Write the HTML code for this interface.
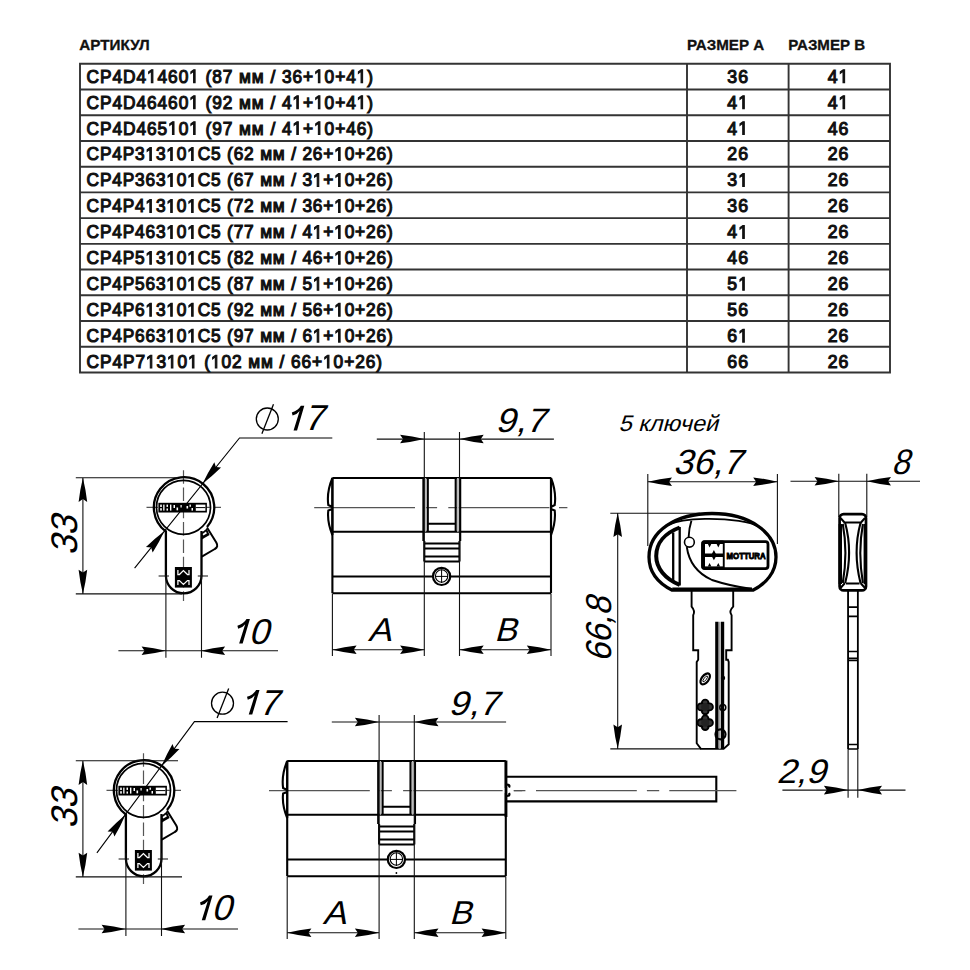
<!DOCTYPE html><html><head><meta charset="utf-8"><style>html,body{margin:0;padding:0;background:#fff;width:970px;height:970px;overflow:hidden}svg{display:block}</style></head><body>
<svg width="970" height="970" viewBox="0 0 970 970">
<rect width="970" height="970" fill="#fff"/>
<path d="M80.0,63.80H890.0M80.0,89.52H890.0M80.0,115.24H890.0M80.0,140.96H890.0M80.0,166.68H890.0M80.0,192.40H890.0M80.0,218.12H890.0M80.0,243.84H890.0M80.0,269.56H890.0M80.0,295.28H890.0M80.0,321.00H890.0M80.0,346.72H890.0M80.0,372.44H890.0M80.0,63.8V372.44M687.0,63.8V372.44M788.6,63.8V372.44M890.0,63.8V372.44" stroke="#333" stroke-width="1.9" fill="none" stroke-linecap="square"/>
<g font-family="Liberation Sans" font-weight="bold" fill="#111">
<text x="79.3" y="50.4" font-size="14.5" stroke="#111" stroke-width="0.3" textLength="70.5" lengthAdjust="spacingAndGlyphs">АРТИКУЛ</text>
<text x="687" y="50.4" font-size="14.5" stroke="#111" stroke-width="0.3" textLength="77.2" lengthAdjust="spacingAndGlyphs">РАЗМЕР А</text>
<text x="788.3" y="50.4" font-size="14.5" stroke="#111" stroke-width="0.3" textLength="76.8" lengthAdjust="spacingAndGlyphs">РАЗМЕР В</text>
<g transform="translate(86.6,82.60) scale(0.93,1)" stroke="#111" stroke-width="1.15"><text id="r0" x="0" y="0" font-size="18.6" font-weight="normal" textLength="308.0" lengthAdjust="spacing">CP4D4 460  (87 мм / 36+ 0+4 )</text><path d="M69.63,0.00 L69.63,-11.23 L66.74,-9.17 L66.74,-10.72 L69.77,-12.80 L71.27,-12.80 L71.27,0.00ZM115.03,0.00 L115.03,-11.23 L112.14,-9.17 L112.14,-10.72 L115.16,-12.80 L116.67,-12.80 L116.67,0.00ZM249.23,0.00 L249.23,-11.23 L246.34,-9.17 L246.34,-10.72 L249.37,-12.80 L250.87,-12.80 L250.87,0.00ZM295.13,0.00 L295.13,-11.23 L292.24,-9.17 L292.24,-10.72 L295.27,-12.80 L296.77,-12.80 L296.77,0.00Z"/></g>
<g transform="translate(738.3,82.60) scale(0.95,1)" stroke="#111" stroke-width="1.15"><text id="a0" x="0" y="0" font-size="18.6" font-weight="normal" text-anchor="middle" letter-spacing="1.2">36</text><path d=""/></g>
<g transform="translate(838.6,82.60) scale(0.95,1)" stroke="#111" stroke-width="1.15"><text id="b0" x="0" y="0" font-size="18.6" font-weight="normal" text-anchor="middle" letter-spacing="1.2">4 </text><path d="M4.67,0.00 L4.67,-11.23 L1.78,-9.17 L1.78,-10.72 L4.81,-12.80 L6.31,-12.80 L6.31,0.00Z"/></g>
<g transform="translate(86.6,108.55) scale(0.93,1)" stroke="#111" stroke-width="1.15"><text id="r1" x="0" y="0" font-size="18.6" font-weight="normal" textLength="308.0" lengthAdjust="spacing">CP4D46460  (92 мм / 4 + 0+4 )</text><path d="M115.03,0.00 L115.03,-11.23 L112.14,-9.17 L112.14,-10.72 L115.16,-12.80 L116.67,-12.80 L116.67,0.00ZM226.03,0.00 L226.03,-11.23 L223.14,-9.17 L223.14,-10.72 L226.17,-12.80 L227.67,-12.80 L227.67,0.00ZM249.23,0.00 L249.23,-11.23 L246.34,-9.17 L246.34,-10.72 L249.37,-12.80 L250.87,-12.80 L250.87,0.00ZM295.13,0.00 L295.13,-11.23 L292.24,-9.17 L292.24,-10.72 L295.27,-12.80 L296.77,-12.80 L296.77,0.00Z"/></g>
<g transform="translate(738.3,108.55) scale(0.95,1)" stroke="#111" stroke-width="1.15"><text id="a1" x="0" y="0" font-size="18.6" font-weight="normal" text-anchor="middle" letter-spacing="1.2">4 </text><path d="M4.67,0.00 L4.67,-11.23 L1.78,-9.17 L1.78,-10.72 L4.81,-12.80 L6.31,-12.80 L6.31,0.00Z"/></g>
<g transform="translate(838.6,108.55) scale(0.95,1)" stroke="#111" stroke-width="1.15"><text id="b1" x="0" y="0" font-size="18.6" font-weight="normal" text-anchor="middle" letter-spacing="1.2">4 </text><path d="M4.67,0.00 L4.67,-11.23 L1.78,-9.17 L1.78,-10.72 L4.81,-12.80 L6.31,-12.80 L6.31,0.00Z"/></g>
<g transform="translate(86.6,134.50) scale(0.93,1)" stroke="#111" stroke-width="1.15"><text id="r2" x="0" y="0" font-size="18.6" font-weight="normal" textLength="308.0" lengthAdjust="spacing">CP4D465 0  (97 мм / 4 + 0+46)</text><path d="M92.33,0.00 L92.33,-11.23 L89.44,-9.17 L89.44,-10.72 L92.46,-12.80 L93.97,-12.80 L93.97,0.00ZM115.03,0.00 L115.03,-11.23 L112.14,-9.17 L112.14,-10.72 L115.16,-12.80 L116.67,-12.80 L116.67,0.00ZM226.03,0.00 L226.03,-11.23 L223.14,-9.17 L223.14,-10.72 L226.17,-12.80 L227.67,-12.80 L227.67,0.00ZM249.23,0.00 L249.23,-11.23 L246.34,-9.17 L246.34,-10.72 L249.37,-12.80 L250.87,-12.80 L250.87,0.00Z"/></g>
<g transform="translate(738.3,134.50) scale(0.95,1)" stroke="#111" stroke-width="1.15"><text id="a2" x="0" y="0" font-size="18.6" font-weight="normal" text-anchor="middle" letter-spacing="1.2">4 </text><path d="M4.67,0.00 L4.67,-11.23 L1.78,-9.17 L1.78,-10.72 L4.81,-12.80 L6.31,-12.80 L6.31,0.00Z"/></g>
<g transform="translate(838.6,134.50) scale(0.95,1)" stroke="#111" stroke-width="1.15"><text id="b2" x="0" y="0" font-size="18.6" font-weight="normal" text-anchor="middle" letter-spacing="1.2">46</text><path d=""/></g>
<g transform="translate(86.6,160.45) scale(0.93,1)" stroke="#111" stroke-width="1.15"><text id="r3" x="0" y="0" font-size="18.6" font-weight="normal" textLength="329.1" lengthAdjust="spacing">CP4P3 3 0 C5 (62 мм / 26+ 0+26)</text><path d="M68.00,0.00 L68.00,-11.23 L65.11,-9.17 L65.11,-10.72 L68.14,-12.80 L69.64,-12.80 L69.64,0.00ZM90.46,0.00 L90.46,-11.23 L87.57,-9.17 L87.57,-10.72 L90.59,-12.80 L92.10,-12.80 L92.10,0.00ZM112.91,0.00 L112.91,-11.23 L110.02,-9.17 L110.02,-10.72 L113.05,-12.80 L114.56,-12.80 L114.56,0.00ZM270.94,0.00 L270.94,-11.23 L268.05,-9.17 L268.05,-10.72 L271.08,-12.80 L272.58,-12.80 L272.58,0.00Z"/></g>
<g transform="translate(738.3,160.45) scale(0.95,1)" stroke="#111" stroke-width="1.15"><text id="a3" x="0" y="0" font-size="18.6" font-weight="normal" text-anchor="middle" letter-spacing="1.2">26</text><path d=""/></g>
<g transform="translate(838.6,160.45) scale(0.95,1)" stroke="#111" stroke-width="1.15"><text id="b3" x="0" y="0" font-size="18.6" font-weight="normal" text-anchor="middle" letter-spacing="1.2">26</text><path d=""/></g>
<g transform="translate(86.6,186.40) scale(0.93,1)" stroke="#111" stroke-width="1.15"><text id="r4" x="0" y="0" font-size="18.6" font-weight="normal" textLength="329.1" lengthAdjust="spacing">CP4P363 0 C5 (67 мм / 3 + 0+26)</text><path d="M90.46,0.00 L90.46,-11.23 L87.57,-9.17 L87.57,-10.72 L90.59,-12.80 L92.10,-12.80 L92.10,0.00ZM112.91,0.00 L112.91,-11.23 L110.02,-9.17 L110.02,-10.72 L113.05,-12.80 L114.56,-12.80 L114.56,0.00ZM247.98,0.00 L247.98,-11.23 L245.09,-9.17 L245.09,-10.72 L248.12,-12.80 L249.63,-12.80 L249.63,0.00ZM270.94,0.00 L270.94,-11.23 L268.05,-9.17 L268.05,-10.72 L271.08,-12.80 L272.58,-12.80 L272.58,0.00Z"/></g>
<g transform="translate(738.3,186.40) scale(0.95,1)" stroke="#111" stroke-width="1.15"><text id="a4" x="0" y="0" font-size="18.6" font-weight="normal" text-anchor="middle" letter-spacing="1.2">3 </text><path d="M4.67,0.00 L4.67,-11.23 L1.78,-9.17 L1.78,-10.72 L4.81,-12.80 L6.31,-12.80 L6.31,0.00Z"/></g>
<g transform="translate(838.6,186.40) scale(0.95,1)" stroke="#111" stroke-width="1.15"><text id="b4" x="0" y="0" font-size="18.6" font-weight="normal" text-anchor="middle" letter-spacing="1.2">26</text><path d=""/></g>
<g transform="translate(86.6,212.35) scale(0.93,1)" stroke="#111" stroke-width="1.15"><text id="r5" x="0" y="0" font-size="18.6" font-weight="normal" textLength="329.1" lengthAdjust="spacing">CP4P4 3 0 C5 (72 мм / 36+ 0+26)</text><path d="M68.00,0.00 L68.00,-11.23 L65.11,-9.17 L65.11,-10.72 L68.14,-12.80 L69.64,-12.80 L69.64,0.00ZM90.46,0.00 L90.46,-11.23 L87.57,-9.17 L87.57,-10.72 L90.59,-12.80 L92.10,-12.80 L92.10,0.00ZM112.91,0.00 L112.91,-11.23 L110.02,-9.17 L110.02,-10.72 L113.05,-12.80 L114.56,-12.80 L114.56,0.00ZM270.94,0.00 L270.94,-11.23 L268.05,-9.17 L268.05,-10.72 L271.08,-12.80 L272.58,-12.80 L272.58,0.00Z"/></g>
<g transform="translate(738.3,212.35) scale(0.95,1)" stroke="#111" stroke-width="1.15"><text id="a5" x="0" y="0" font-size="18.6" font-weight="normal" text-anchor="middle" letter-spacing="1.2">36</text><path d=""/></g>
<g transform="translate(838.6,212.35) scale(0.95,1)" stroke="#111" stroke-width="1.15"><text id="b5" x="0" y="0" font-size="18.6" font-weight="normal" text-anchor="middle" letter-spacing="1.2">26</text><path d=""/></g>
<g transform="translate(86.6,238.30) scale(0.93,1)" stroke="#111" stroke-width="1.15"><text id="r6" x="0" y="0" font-size="18.6" font-weight="normal" textLength="329.1" lengthAdjust="spacing">CP4P463 0 C5 (77 мм / 4 + 0+26)</text><path d="M90.46,0.00 L90.46,-11.23 L87.57,-9.17 L87.57,-10.72 L90.59,-12.80 L92.10,-12.80 L92.10,0.00ZM112.91,0.00 L112.91,-11.23 L110.02,-9.17 L110.02,-10.72 L113.05,-12.80 L114.56,-12.80 L114.56,0.00ZM247.98,0.00 L247.98,-11.23 L245.09,-9.17 L245.09,-10.72 L248.12,-12.80 L249.63,-12.80 L249.63,0.00ZM270.94,0.00 L270.94,-11.23 L268.05,-9.17 L268.05,-10.72 L271.08,-12.80 L272.58,-12.80 L272.58,0.00Z"/></g>
<g transform="translate(738.3,238.30) scale(0.95,1)" stroke="#111" stroke-width="1.15"><text id="a6" x="0" y="0" font-size="18.6" font-weight="normal" text-anchor="middle" letter-spacing="1.2">4 </text><path d="M4.67,0.00 L4.67,-11.23 L1.78,-9.17 L1.78,-10.72 L4.81,-12.80 L6.31,-12.80 L6.31,0.00Z"/></g>
<g transform="translate(838.6,238.30) scale(0.95,1)" stroke="#111" stroke-width="1.15"><text id="b6" x="0" y="0" font-size="18.6" font-weight="normal" text-anchor="middle" letter-spacing="1.2">26</text><path d=""/></g>
<g transform="translate(86.6,264.25) scale(0.93,1)" stroke="#111" stroke-width="1.15"><text id="r7" x="0" y="0" font-size="18.6" font-weight="normal" textLength="329.1" lengthAdjust="spacing">CP4P5 3 0 C5 (82 мм / 46+ 0+26)</text><path d="M68.00,0.00 L68.00,-11.23 L65.11,-9.17 L65.11,-10.72 L68.14,-12.80 L69.64,-12.80 L69.64,0.00ZM90.46,0.00 L90.46,-11.23 L87.57,-9.17 L87.57,-10.72 L90.59,-12.80 L92.10,-12.80 L92.10,0.00ZM112.91,0.00 L112.91,-11.23 L110.02,-9.17 L110.02,-10.72 L113.05,-12.80 L114.56,-12.80 L114.56,0.00ZM270.94,0.00 L270.94,-11.23 L268.05,-9.17 L268.05,-10.72 L271.08,-12.80 L272.58,-12.80 L272.58,0.00Z"/></g>
<g transform="translate(738.3,264.25) scale(0.95,1)" stroke="#111" stroke-width="1.15"><text id="a7" x="0" y="0" font-size="18.6" font-weight="normal" text-anchor="middle" letter-spacing="1.2">46</text><path d=""/></g>
<g transform="translate(838.6,264.25) scale(0.95,1)" stroke="#111" stroke-width="1.15"><text id="b7" x="0" y="0" font-size="18.6" font-weight="normal" text-anchor="middle" letter-spacing="1.2">26</text><path d=""/></g>
<g transform="translate(86.6,290.20) scale(0.93,1)" stroke="#111" stroke-width="1.15"><text id="r8" x="0" y="0" font-size="18.6" font-weight="normal" textLength="329.1" lengthAdjust="spacing">CP4P563 0 C5 (87 мм / 5 + 0+26)</text><path d="M90.46,0.00 L90.46,-11.23 L87.57,-9.17 L87.57,-10.72 L90.59,-12.80 L92.10,-12.80 L92.10,0.00ZM112.91,0.00 L112.91,-11.23 L110.02,-9.17 L110.02,-10.72 L113.05,-12.80 L114.56,-12.80 L114.56,0.00ZM247.98,0.00 L247.98,-11.23 L245.09,-9.17 L245.09,-10.72 L248.12,-12.80 L249.63,-12.80 L249.63,0.00ZM270.94,0.00 L270.94,-11.23 L268.05,-9.17 L268.05,-10.72 L271.08,-12.80 L272.58,-12.80 L272.58,0.00Z"/></g>
<g transform="translate(738.3,290.20) scale(0.95,1)" stroke="#111" stroke-width="1.15"><text id="a8" x="0" y="0" font-size="18.6" font-weight="normal" text-anchor="middle" letter-spacing="1.2">5 </text><path d="M4.67,0.00 L4.67,-11.23 L1.78,-9.17 L1.78,-10.72 L4.81,-12.80 L6.31,-12.80 L6.31,0.00Z"/></g>
<g transform="translate(838.6,290.20) scale(0.95,1)" stroke="#111" stroke-width="1.15"><text id="b8" x="0" y="0" font-size="18.6" font-weight="normal" text-anchor="middle" letter-spacing="1.2">26</text><path d=""/></g>
<g transform="translate(86.6,316.15) scale(0.93,1)" stroke="#111" stroke-width="1.15"><text id="r9" x="0" y="0" font-size="18.6" font-weight="normal" textLength="329.1" lengthAdjust="spacing">CP4P6 3 0 C5 (92 мм / 56+ 0+26)</text><path d="M68.00,0.00 L68.00,-11.23 L65.11,-9.17 L65.11,-10.72 L68.14,-12.80 L69.64,-12.80 L69.64,0.00ZM90.46,0.00 L90.46,-11.23 L87.57,-9.17 L87.57,-10.72 L90.59,-12.80 L92.10,-12.80 L92.10,0.00ZM112.91,0.00 L112.91,-11.23 L110.02,-9.17 L110.02,-10.72 L113.05,-12.80 L114.56,-12.80 L114.56,0.00ZM270.94,0.00 L270.94,-11.23 L268.05,-9.17 L268.05,-10.72 L271.08,-12.80 L272.58,-12.80 L272.58,0.00Z"/></g>
<g transform="translate(738.3,316.15) scale(0.95,1)" stroke="#111" stroke-width="1.15"><text id="a9" x="0" y="0" font-size="18.6" font-weight="normal" text-anchor="middle" letter-spacing="1.2">56</text><path d=""/></g>
<g transform="translate(838.6,316.15) scale(0.95,1)" stroke="#111" stroke-width="1.15"><text id="b9" x="0" y="0" font-size="18.6" font-weight="normal" text-anchor="middle" letter-spacing="1.2">26</text><path d=""/></g>
<g transform="translate(86.6,342.10) scale(0.93,1)" stroke="#111" stroke-width="1.15"><text id="r10" x="0" y="0" font-size="18.6" font-weight="normal" textLength="329.1" lengthAdjust="spacing">CP4P663 0 C5 (97 мм / 6 + 0+26)</text><path d="M90.46,0.00 L90.46,-11.23 L87.57,-9.17 L87.57,-10.72 L90.59,-12.80 L92.10,-12.80 L92.10,0.00ZM112.91,0.00 L112.91,-11.23 L110.02,-9.17 L110.02,-10.72 L113.05,-12.80 L114.56,-12.80 L114.56,0.00ZM247.98,0.00 L247.98,-11.23 L245.09,-9.17 L245.09,-10.72 L248.12,-12.80 L249.63,-12.80 L249.63,0.00ZM270.94,0.00 L270.94,-11.23 L268.05,-9.17 L268.05,-10.72 L271.08,-12.80 L272.58,-12.80 L272.58,0.00Z"/></g>
<g transform="translate(738.3,342.10) scale(0.95,1)" stroke="#111" stroke-width="1.15"><text id="a10" x="0" y="0" font-size="18.6" font-weight="normal" text-anchor="middle" letter-spacing="1.2">6 </text><path d="M4.67,0.00 L4.67,-11.23 L1.78,-9.17 L1.78,-10.72 L4.81,-12.80 L6.31,-12.80 L6.31,0.00Z"/></g>
<g transform="translate(838.6,342.10) scale(0.95,1)" stroke="#111" stroke-width="1.15"><text id="b10" x="0" y="0" font-size="18.6" font-weight="normal" text-anchor="middle" letter-spacing="1.2">26</text><path d=""/></g>
<g transform="translate(86.6,368.05) scale(0.93,1)" stroke="#111" stroke-width="1.15"><text id="r11" x="0" y="0" font-size="18.6" font-weight="normal" textLength="317.6" lengthAdjust="spacing">CP4P7 3 0  ( 02 мм / 66+ 0+26)</text><path d="M68.48,0.00 L68.48,-11.23 L65.60,-9.17 L65.60,-10.72 L68.62,-12.80 L70.13,-12.80 L70.13,0.00ZM91.13,0.00 L91.13,-11.23 L88.24,-9.17 L88.24,-10.72 L91.27,-12.80 L92.78,-12.80 L92.78,0.00ZM113.78,0.00 L113.78,-11.23 L110.89,-9.17 L110.89,-10.72 L113.92,-12.80 L115.43,-12.80 L115.43,0.00ZM138.42,0.00 L138.42,-11.23 L135.53,-9.17 L135.53,-10.72 L138.55,-12.80 L140.06,-12.80 L140.06,0.00ZM258.96,0.00 L258.96,-11.23 L256.07,-9.17 L256.07,-10.72 L259.09,-12.80 L260.60,-12.80 L260.60,0.00Z"/></g>
<g transform="translate(738.3,368.05) scale(0.95,1)" stroke="#111" stroke-width="1.15"><text id="a11" x="0" y="0" font-size="18.6" font-weight="normal" text-anchor="middle" letter-spacing="1.2">66</text><path d=""/></g>
<g transform="translate(838.6,368.05) scale(0.95,1)" stroke="#111" stroke-width="1.15"><text id="b11" x="0" y="0" font-size="18.6" font-weight="normal" text-anchor="middle" letter-spacing="1.2">26</text><path d=""/></g>
</g>
<defs>
<path id="ar" d="M0,0 Q-12,-2.9 -24.2,-4.3 L-21.3,0 L-24.2,4.3 Q-12,2.9 0,0Z" fill="#000"/>
</defs>
<g id="endview"><path d="M183.5,470.2 V601" stroke="#555" stroke-width="1.2" stroke-dasharray="13.5,3.8" fill="none"/><path d="M146.5,507.3 H221" stroke="#555" stroke-width="1.2" stroke-dasharray="13.5,3.8" stroke-dashoffset="2" fill="none"/><path d="M158.6,576 H169 M197.8,576 H208" stroke="#111" stroke-width="1.1" fill="none"/><path d="M165.9,531.5 A30.2,30.2 0 1 1 207,527" stroke="#000" stroke-width="2.3" fill="none"/><circle cx="183.5" cy="507.3" r="27" stroke="#000" stroke-width="1.7" fill="none"/><path d="M165.9,530.5 V575.6 A17.8,17.8 0 0 0 201.5,575.6 V531" stroke="#000" stroke-width="2.3" fill="none"/><path d="M207,527.4 L216.3,542.5 Q218.8,546.8 214.8,549 Q208,553 201.8,556.6" stroke="#000" stroke-width="2" fill="none"/><path d="M201.3,533 L206.8,528.6 L209.6,535 Q205,537.5 201.3,540 Z" fill="#000"/><path d="M202.6,533.9 L206,531.6 L206.8,533.4 L203.3,535.6Z" fill="#fff"/><rect x="158.4" y="502.8" width="48.5" height="9.7" fill="#000"/><rect x="195.8" y="504.6" width="9.6" height="6.2" fill="#fff"/><path d="M195.8,507.6 H205.4" stroke="#000" stroke-width="1"/><rect x="160.2" y="504.6" width="1.6" height="2.4" fill="#fff"/><rect x="160.2" y="508.2" width="1.6" height="2.4" fill="#fff"/><rect x="163.2" y="504.6" width="1.3" height="6" fill="#fff"/><rect x="166.5" y="504.6" width="1.5" height="2.3" fill="#fff"/><rect x="166.5" y="508.5" width="1.5" height="2.1" fill="#fff"/><rect x="170" y="504.6" width="1.4" height="6" fill="#fff"/><rect x="173.5" y="505" width="1.5" height="3" fill="#fff"/><rect x="176.5" y="507.5" width="1.6" height="2.8" fill="#fff"/><rect x="180.5" y="505" width="1.2" height="2.5" fill="#fff"/><rect x="186.5" y="506" width="1.6" height="2.5" fill="#fff"/><rect x="189.5" y="504.6" width="1.4" height="2.2" fill="#fff"/><rect x="191.5" y="508" width="1.5" height="2.6" fill="#fff"/><rect x="174.9" y="567" width="17" height="20.6" fill="#000"/><path d="M177.9,570 V574.5 H179.4 L183.4,570.6 L187.5,574.5 H189 V570 M177.9,585 V580.6 H179.4 L183.4,584.4 L187.5,580.6 H189 V585" stroke="#fff" stroke-width="1.25" fill="none"/></g>
<path d="M134.6,568.2 L239.5,438 H332.3" stroke="#000" stroke-width="1.1" fill="none"/><use href="#ar" transform="translate(164.49,530.89) rotate(-51.14)"/><use href="#ar" transform="translate(202.51,483.71) rotate(128.86)"/>
<g transform="translate(0,0)"><ellipse cx="267.3" cy="419" rx="11" ry="11" stroke="#000" stroke-width="1.3" fill="none"/><path d="M261.9,433.7 L273.5,404.3" stroke="#000" stroke-width="1.3"/><path d="M293.55,430.4 L297.05,430.4 L304.30,405.80 L300.90,405.80 Q298.30,410.40 291.80,412.60 L292.60,415.50 Q297.30,414.40 299.60,411.10 Z" fill="#000"/><g transform="translate(303.4,430.3) skewX(-15)"><text x="0" y="0" font-family="Liberation Sans" font-size="36">7</text></g></g>
<path d="M96.9,852.9 L194.4,721.6 H287.6" stroke="#000" stroke-width="1.1" fill="none"/><use href="#ar" transform="translate(125.44,814.63) rotate(-53.40)"/><use href="#ar" transform="translate(161.56,765.97) rotate(126.60)"/>
<g transform="translate(-44.8,284.2)"><ellipse cx="267.3" cy="419" rx="11" ry="11" stroke="#000" stroke-width="1.3" fill="none"/><path d="M261.9,433.7 L273.5,404.3" stroke="#000" stroke-width="1.3"/><path d="M293.55,430.4 L297.05,430.4 L304.30,405.80 L300.90,405.80 Q298.30,410.40 291.80,412.60 L292.60,415.50 Q297.30,414.40 299.60,411.10 Z" fill="#000"/><g transform="translate(303.4,430.3) skewX(-15)"><text x="0" y="0" font-family="Liberation Sans" font-size="36">7</text></g></g>
<g id="dim33"><path d="M75.8,477.7 H178 M75.8,593.9 H182 M82.9,477.7 V593.9" stroke="#111" stroke-width="1.1" fill="none"/><use href="#ar" transform="translate(82.90,477.70) rotate(-90.00)"/><use href="#ar" transform="translate(82.90,593.90) rotate(90.00)"/></g>
<g id="dim10"><path d="M118.4,650.8 H278 M165.9,575 V657.8 M201.5,575 V657.8" stroke="#111" stroke-width="1.1" fill="none"/><use href="#ar" transform="translate(165.80,650.80) rotate(0.00)"/><use href="#ar" transform="translate(200.90,650.80) rotate(180.00)"/></g>
<use href="#endview" transform="translate(-40,283)"/>
<use href="#dim33" transform="translate(0,283)"/>
<g transform="translate(76.8,535.8) rotate(-90) skewX(-15)"><text x="0" y="0" text-anchor="middle" font-family="Liberation Sans" font-size="37" textLength="39.5" lengthAdjust="spacingAndGlyphs">33</text></g>
<g transform="translate(0,273.2)"><g transform="translate(76.8,535.8) rotate(-90) skewX(-15)"><text x="0" y="0" text-anchor="middle" font-family="Liberation Sans" font-size="37" textLength="39.5" lengthAdjust="spacingAndGlyphs">33</text></g></g>
<path d="M239.15,643.6 L242.65,643.6 L249.90,619.00 L246.50,619.00 Q243.90,623.60 237.40,625.80 L238.20,628.70 Q242.90,627.60 245.20,624.30 Z" fill="#000"/><g transform="translate(248.6,643.8) skewX(-15)"><text x="0" y="0" font-family="Liberation Sans" font-size="36">0</text></g>
<g transform="translate(-37.4,276.6)"><path d="M239.15,643.6 L242.65,643.6 L249.90,619.00 L246.50,619.00 Q243.90,623.60 237.40,625.80 L238.20,628.70 Q242.90,627.60 245.20,624.30 Z" fill="#000"/><g transform="translate(248.6,643.8) skewX(-15)"><text x="0" y="0" font-family="Liberation Sans" font-size="36">0</text></g></g>
<use href="#dim10" transform="translate(-40,278.2)"/>
<g id="cyl"><path d="M314.2,507.6 H415 M424.5,507.6 H437.1 M448.3,507.6 H549.4 M559,507.6 H567.4" stroke="#555" stroke-width="1.2" fill="none"/><path d="M332.4,478.0 H551.0 M332.4,531.7 H551.0 M332.4,593.3 H551.0 M332.4,576.5 H432.4 M450.8,576.5 H551.0 M332.4,478.0 V593.3 M551.0,478.0 V593.3" stroke="#000" stroke-width="2.1" fill="none"/><path d="M332.4,478.0 Q326.5,492 328.3,505 L332.4,507 Z M332.4,509 L328.3,510.5 Q327,522 332.4,535 Z" fill="none" stroke="#000" stroke-width="2.1"/><rect x="424.8" y="478.0" width="1.5" height="53.7" fill="#bbb"/><rect x="457" y="478.0" width="1.8" height="53.7" fill="#bbb"/><path d="M423.4,478.0 V541 M460.2,478.0 V541 M427.8,478.0 V531.7 M455.7,478.0 V531.7 M427.8,523.8 H455.7 M424.3,541 V561.5 M459.5,541 V561.5 M424.3,543.5 H459.5 M424.3,548.5 H459.5 M424.3,556.5 H459.5 M424.3,561.5 H459.5" stroke="#000" stroke-width="2.1" fill="none"/><circle cx="441.6" cy="576.4" r="8.6" stroke="#000" stroke-width="2.2" fill="#fff"/><circle cx="441.6" cy="576.0" r="6.2" stroke="#000" stroke-width="1.1" fill="none"/><path d="M441.6,569.5 V583 M435,576.4 H448" stroke="#000" stroke-width="1" fill="none"/><path d="M424.3,432 V656 M459.5,432 V656 M332.4,594 V656 M551.0,594 V656" stroke="#111" stroke-width="1.1" fill="none"/><path d="M332.4,649.8 H424.3 M459.5,649.8 H551.0" stroke="#111" stroke-width="1.1" fill="none"/><use href="#ar" transform="translate(424.30,439.00) rotate(0.00)"/><use href="#ar" transform="translate(459.50,439.00) rotate(180.00)"/><use href="#ar" transform="translate(332.40,649.80) rotate(180.00)"/><use href="#ar" transform="translate(424.30,649.80) rotate(0.00)"/><use href="#ar" transform="translate(459.50,649.80) rotate(180.00)"/><use href="#ar" transform="translate(551.00,649.80) rotate(0.00)"/><g transform="translate(367.8,640.8) skewX(-15)"><text x="0" y="0" font-family="Liberation Sans" font-size="33" textLength="23.5" lengthAdjust="spacingAndGlyphs">A</text></g><g transform="translate(494.3,640.8) skewX(-15)"><text x="0" y="0" font-family="Liberation Sans" font-size="33" textLength="22.5" lengthAdjust="spacingAndGlyphs">B</text></g></g>
<path d="M551.0,478.0 Q556.5,492 554.7,505 L551.0,507 Z M551.0,509 L554.7,510.5 Q556,522 551.0,535 Z" fill="none" stroke="#000" stroke-width="2.1"/>
<use href="#cyl" transform="translate(-45.2,283)"/>
<g transform="translate(495.3,432.3) skewX(-15)"><text x="0" y="0" font-family="Liberation Sans" font-size="34" textLength="50.3" lengthAdjust="spacingAndGlyphs">9,7</text></g>
<g transform="translate(-47,282.2)"><g transform="translate(495.3,432.3) skewX(-15)"><text x="0" y="0" font-family="Liberation Sans" font-size="34" textLength="50.3" lengthAdjust="spacingAndGlyphs">9,7</text></g></g>
<path d="M376.8,439.1 H553.9 M331.8,722 H506.1" stroke="#111" stroke-width="1.1" fill="none"/>
<rect x="502.6" y="788" width="10" height="5" fill="#fff"/>
<path d="M506,760.5 V817" stroke="#000" stroke-width="2.8"/>
<circle cx="396.4" cy="873" r="0.9" fill="#000"/>
<path d="M506.5,784.5 Q510.5,784.5 509,787.5 M506.5,796 Q510.5,796 509,793" stroke="#000" stroke-width="2.2" fill="none"/>
<path d="M506,776.7 H716.3 V801.4 H506" stroke="#000" stroke-width="2.1" fill="none"/>
<path d="M513.8,790.6 H525.4 M536,790.6 H636.8 M646.9,790.6 H659.2 M669.3,790.6 H736.4" stroke="#555" stroke-width="1.2" fill="none"/>
<path d="M647.8,474 V546 M777.4,474 V544 M610.3,513.3 H700 M610.3,748.9 H700.9 M617.7,512.9 V748.6" stroke="#111" stroke-width="1.1" fill="none"/><path d="M647.8,481.7 H777.4" stroke="#111" stroke-width="1.1"/><use href="#ar" transform="translate(647.80,481.70) rotate(180.00)"/><use href="#ar" transform="translate(777.40,481.70) rotate(0.00)"/><use href="#ar" transform="translate(617.70,512.90) rotate(-90.00)"/><use href="#ar" transform="translate(617.70,748.60) rotate(90.00)"/><g transform="translate(673,473.9) skewX(-15)"><text x="0" y="0" font-family="Liberation Sans" font-size="35" textLength="69" lengthAdjust="spacingAndGlyphs">36,7</text></g><g transform="translate(610.8,629.6) rotate(-90) skewX(-15)"><text text-anchor="middle" font-family="Liberation Sans" font-size="36" textLength="65" lengthAdjust="spacingAndGlyphs">66,8</text></g><g transform="translate(618.4,430.7) skewX(-15)"><text x="0" y="0" font-family="Liberation Sans" font-size="22.5" textLength="99.6" lengthAdjust="spacingAndGlyphs">5 ключей</text></g><path d="M672.3,590.2 C656,582 649,570 649,556.9 C649,531 676,513.5 712,513.5 C750,513.5 776,533 776,556.9 C776,572 766,584 752.9,590.2 Z" stroke="#000" stroke-width="3.3" fill="none"/><path d="M666,525.5 C676,521 690,519 705,518.9 C730,518.5 752,522 759,527" stroke="#000" stroke-width="1.8" fill="none"/><path d="M672.3,588.6 H752" stroke="#000" stroke-width="2.2" fill="none"/><path d="M679.7,527.5 C665,533 656.2,543 656.2,556 C656.2,568 665,579 679.7,584.8" stroke="#000" stroke-width="4" fill="none"/><path d="M679.7,527 V585.5 M673.2,532.5 V580.5" stroke="#000" stroke-width="2.3" fill="none"/><path d="M691.4,520.7 Q689,528 688.6,537.3 M686.8,547 Q690,570 712,580 Q730,586 752,589" stroke="#000" stroke-width="1.9" fill="none"/><circle cx="689.4" cy="542.2" r="4.9" stroke="#000" stroke-width="1.6" fill="#fff"/><rect x="702.5" y="541.7" width="65.5" height="26.9" rx="2.5" stroke="#000" stroke-width="2.8" fill="#fff"/><rect x="701.5" y="540.5" width="23.2" height="29" rx="2" fill="#000"/><rect x="705" y="544" width="17.8" height="9.5" fill="#fff"/><rect x="705" y="557" width="17.8" height="9.4" fill="#fff"/><path d="M707.8,543.8 L709.6,547.4 L711.4,543.8Z M716.5,543.8 L718.3,547.4 L720.1,543.8Z M707.8,566.6 L709.6,563 L711.4,566.6Z M716.5,566.6 L718.3,563 L720.1,566.6Z M711.2,555.2 L713.9,550.1 L716.6,555.2 L713.9,560.3Z" fill="#000"/><text x="726.6" y="558.9" font-family="Liberation Sans" font-weight="bold" font-size="8.8" stroke="#000" stroke-width="0.9" textLength="39" lengthAdjust="spacingAndGlyphs">MOTTURA</text><path d="M691.6,591 V606.6 Q695.5,611 693.2,615.2 V650.3 H698.2 V659.8 L696.7,662 V743.3 L700.9,748.9 H723.6 L728.7,744.3 V662 L727.9,659.8 H726.2 V650.3 H731.6 V615.2 Q728.5,611 733.2,606.6 V591" stroke="#000" stroke-width="1.9" fill="none"/><rect x="718.4" y="621.8" width="2.4" height="127" fill="#aaa"/><path d="M716.8,621.8 V748.9 M722.6,621.8 V748.9" stroke="#000" stroke-width="3.2" fill="none"/><ellipse cx="705.2" cy="678.9" rx="6.3" ry="3.5" transform="rotate(-52 705.2 678.9)" stroke="#000" stroke-width="2.2" fill="#fff"/><ellipse cx="705.2" cy="678.9" rx="3.5" ry="1.2" transform="rotate(-52 705.2 678.9)" stroke="#000" stroke-width="0.9" fill="none"/><g stroke="#000" stroke-width="1.9" fill="#333"><circle cx="705.2" cy="702.9" r="3.3"/><circle cx="705.2" cy="710.9" r="3.3"/><circle cx="701" cy="706.9" r="3.5"/><circle cx="709.4" cy="706.9" r="3.5"/></g><circle cx="705.2" cy="706.9" r="4" fill="#222"/><g stroke="#000" stroke-width="1.9" fill="#333"><circle cx="705.2" cy="718.7" r="3.3"/><circle cx="705.2" cy="726.7" r="3.3"/><circle cx="701" cy="722.7" r="3.5"/><circle cx="709.4" cy="722.7" r="3.5"/></g><circle cx="705.2" cy="722.7" r="4" fill="#222"/><circle cx="723" cy="678" r="2.2" fill="#000"/><circle cx="722.8" cy="707.4" r="3" stroke="#000" stroke-width="1.5" fill="none"/><circle cx="720.5" cy="734.3" r="5" stroke="#000" stroke-width="2.2" fill="none"/>
<path d="M838.8,473.8 V517 M866.8,473.8 V517 M848.1,591 V797.7 M857.8,591 V797.7" stroke="#111" stroke-width="1.1" fill="none"/><path d="M790.5,481.3 H920 M782.4,790.1 H905.5" stroke="#111" stroke-width="1.1" fill="none"/><use href="#ar" transform="translate(838.80,481.30) rotate(0.00)"/><use href="#ar" transform="translate(866.80,481.30) rotate(180.00)"/><use href="#ar" transform="translate(848.10,790.10) rotate(0.00)"/><use href="#ar" transform="translate(857.80,790.10) rotate(180.00)"/><g transform="translate(891.2,473.8) skewX(-15)"><text x="0" y="0" font-family="Liberation Sans" font-size="35.5" textLength="18" lengthAdjust="spacingAndGlyphs">8</text></g><g transform="translate(776.5,783.3) skewX(-15)"><text x="0" y="0" font-family="Liberation Sans" font-size="34" textLength="49" lengthAdjust="spacingAndGlyphs">2,9</text></g><rect x="839.6" y="514.1" width="26.4" height="76.3" rx="4" stroke="#000" stroke-width="2.7" fill="none"/><path d="M840.3,524 V584 M865.3,524 V584" stroke="#000" stroke-width="3.4" fill="none"/><path d="M843.5,522.6 H862 M846,583.4 H859.5 M840.5,518 L845,523 M865,518 L860.5,523 M840.5,588 L845,583 M865,588 L860.5,583" stroke="#000" stroke-width="2" fill="none"/><path d="M842.8,524 Q848,552 842.8,583 M845.2,523 Q853,552 845.2,583 M860.5,523 Q852.7,552 860.5,583 M862.9,524 Q857.7,552 862.9,583" stroke="#000" stroke-width="2.1" fill="none"/><path d="M848.1,591 V749 M857.8,591 V749 M848.1,607.2 H857.8 M848.1,616.3 H857.8 M848.1,651.5 H857.8 M848.1,658.3 H857.8 M848.1,660.5 H857.8 M848.1,744.5 H857.8 M848.1,749 H857.8" stroke="#000" stroke-width="1.7" fill="none"/>
</svg></body></html>
